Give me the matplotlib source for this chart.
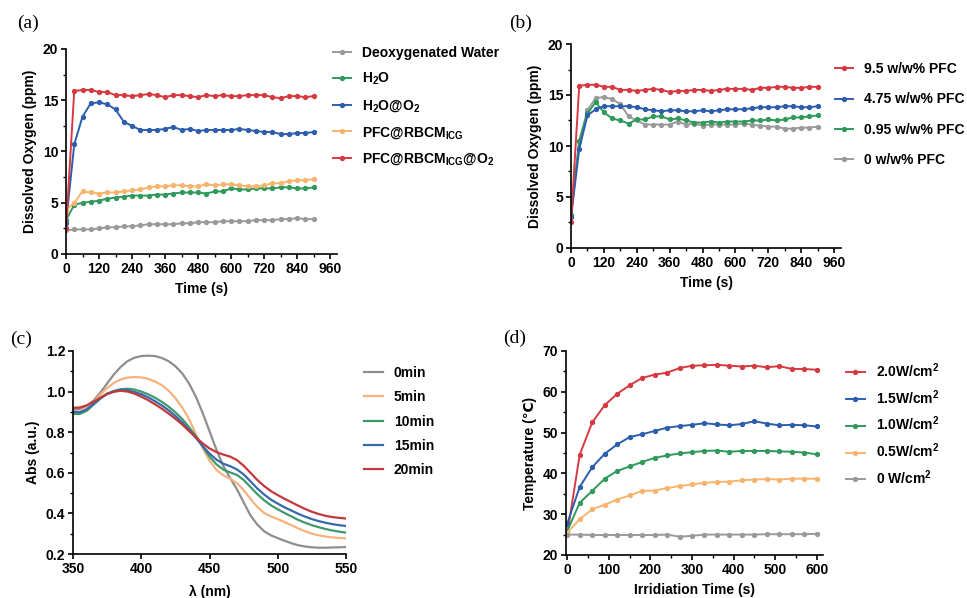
import numpy as np
import matplotlib as mpl
import matplotlib.pyplot as plt
from matplotlib.ticker import MultipleLocator

mpl.rcParams.update({
    "font.family": ["Liberation Sans", "DejaVu Sans"],
    "font.weight": "bold", "font.size": 10,
    "axes.labelweight": "bold", "mathtext.default": "regular",
    "axes.linewidth": 1.2, "xtick.major.width": 1.2, "ytick.major.width": 1.2,
    "xtick.minor.width": 1.0, "ytick.minor.width": 1.0,
    "xtick.major.size": 3.5, "ytick.major.size": 3.5,
    "xtick.minor.size": 2.2, "ytick.minor.size": 2.2,
    "xtick.major.pad": 2.5, "ytick.major.pad": 2.0,
})

RED, BLUE, GREEN, ORANGE, GRAY = "#d63a40", "#2d5eae", "#2f9a5c", "#f7b46e", "#9a9a9a"

# ---------------- (a) dissolved oxygen, 0..900 s every 30 s
T_A = np.arange(0, 901, 30)
A_DEOX = [2.3, 2.4, 2.4, 2.4, 2.5, 2.6, 2.6, 2.7, 2.7, 2.8, 2.9, 2.9, 2.9, 2.9, 3.0, 3.0,
          3.1, 3.1, 3.1, 3.2, 3.2, 3.2, 3.2, 3.3, 3.3, 3.3, 3.4, 3.4, 3.5, 3.4, 3.4]
A_H2O = [3.3, 4.8, 5.0, 5.1, 5.2, 5.4, 5.5, 5.6, 5.7, 5.7, 5.7, 5.8, 5.8, 5.9, 6.0, 6.0,
         6.0, 5.9, 6.1, 6.1, 6.4, 6.3, 6.3, 6.4, 6.4, 6.4, 6.5, 6.5, 6.4, 6.4, 6.5]
A_H2O_O2 = [3.0, 10.7, 13.4, 14.7, 14.8, 14.6, 14.1, 12.9, 12.5, 12.1, 12.1, 12.1, 12.2, 12.4,
            12.1, 12.2, 12.0, 12.1, 12.1, 12.1, 12.1, 12.2, 12.1, 12.0, 11.9, 11.9, 11.7, 11.7,
            11.8, 11.8, 11.9]
A_PFC = [4.3, 5.0, 6.1, 6.0, 5.9, 6.0, 6.0, 6.1, 6.2, 6.3, 6.5, 6.6, 6.6, 6.7, 6.7, 6.6,
         6.6, 6.8, 6.7, 6.8, 6.8, 6.7, 6.6, 6.6, 6.7, 6.9, 6.9, 7.1, 7.2, 7.2, 7.3]
A_PFC_O2 = [2.5, 15.9, 16.0, 16.0, 15.8, 15.8, 15.5, 15.5, 15.4, 15.5, 15.6, 15.5, 15.3, 15.5,
            15.5, 15.4, 15.3, 15.5, 15.4, 15.5, 15.4, 15.4, 15.5, 15.5, 15.5, 15.3, 15.2, 15.4,
            15.4, 15.3, 15.4]
A_LABELS = ["Deoxygenated Water", "H$_2$O", "H$_2$O@O$_2$",
            "PFC@RBCM$_{ICG}$", "PFC@RBCM$_{ICG}$@O$_2$"]

# ---------------- (b) PFC content
B_95 = [2.5, 15.9, 16.0, 16.0, 15.8, 15.8, 15.5, 15.5, 15.4, 15.5, 15.6, 15.5, 15.3, 15.4,
        15.4, 15.5, 15.5, 15.4, 15.5, 15.6, 15.6, 15.6, 15.5, 15.7, 15.7, 15.8, 15.8, 15.7,
        15.7, 15.8, 15.8]
B_475 = [3.0, 9.7, 13.0, 13.6, 13.9, 13.9, 13.9, 13.9, 13.8, 13.6, 13.5, 13.4, 13.5, 13.5,
         13.4, 13.4, 13.5, 13.4, 13.5, 13.6, 13.6, 13.6, 13.7, 13.8, 13.8, 13.8, 13.9, 13.9,
         13.8, 13.8, 13.9]
B_095 = [3.2, 10.5, 13.2, 14.3, 13.3, 12.7, 12.5, 12.2, 12.6, 12.6, 12.9, 12.9, 12.6, 12.7,
         12.5, 12.3, 12.3, 12.4, 12.3, 12.4, 12.4, 12.4, 12.5, 12.5, 12.6, 12.5, 12.6, 12.8,
         12.8, 12.9, 13.0]
B_0 = [3.2, 10.5, 13.5, 14.7, 14.8, 14.6, 14.1, 12.9, 12.5, 12.1, 12.1, 12.1, 12.1, 12.4,
       12.1, 12.2, 12.0, 12.1, 12.1, 12.1, 12.1, 12.2, 12.1, 12.0, 11.9, 11.9, 11.7, 11.7,
       11.8, 11.8, 11.9]
B_LABELS = ["9.5 w/w% PFC", "4.75 w/w% PFC", "0.95 w/w% PFC", "0 w/w% PFC"]

# ---------------- (c) absorbance spectra, 350..550 nm every 5 nm
WL = np.arange(350, 551, 5)
C_0 = [0.910, 0.915, 0.930, 0.955, 0.995, 1.040, 1.085, 1.122, 1.150, 1.167, 1.175, 1.177,
       1.175, 1.166, 1.150, 1.125, 1.090, 1.040, 0.975, 0.895, 0.805, 0.715, 0.635, 0.575,
       0.520, 0.455, 0.390, 0.345, 0.312, 0.292, 0.278, 0.265, 0.253, 0.243, 0.237, 0.233,
       0.231, 0.231, 0.232, 0.233, 0.234]
C_5 = [0.900, 0.902, 0.918, 0.948, 0.985, 1.018, 1.043, 1.060, 1.069, 1.072, 1.070, 1.063,
       1.050, 1.032, 1.005, 0.968, 0.922, 0.865, 0.790, 0.722, 0.660, 0.615, 0.588, 0.571,
       0.550, 0.515, 0.472, 0.432, 0.402, 0.385, 0.372, 0.357, 0.342, 0.326, 0.312, 0.300,
       0.292, 0.286, 0.282, 0.279, 0.277]
C_10 = [0.890, 0.890, 0.905, 0.935, 0.965, 0.988, 1.003, 1.012, 1.014, 1.010, 1.000, 0.987,
        0.970, 0.950, 0.926, 0.898, 0.865, 0.825, 0.780, 0.730, 0.680, 0.642, 0.616, 0.602,
        0.590, 0.565, 0.530, 0.495, 0.465, 0.440, 0.420, 0.402, 0.385, 0.368, 0.354, 0.342,
        0.332, 0.323, 0.316, 0.310, 0.305]
C_15 = [0.900, 0.898, 0.912, 0.940, 0.968, 0.990, 1.002, 1.008, 1.006, 0.998, 0.987, 0.972,
        0.953, 0.932, 0.908, 0.880, 0.848, 0.812, 0.772, 0.732, 0.695, 0.665, 0.645, 0.633,
        0.617, 0.592, 0.558, 0.523, 0.493, 0.468, 0.448, 0.430, 0.414, 0.398, 0.384, 0.372,
        0.362, 0.354, 0.347, 0.342, 0.338]
C_20 = [0.920, 0.922, 0.932, 0.950, 0.970, 0.988, 0.999, 1.004, 1.000, 0.990, 0.975, 0.958,
        0.938, 0.916, 0.892, 0.866, 0.838, 0.806, 0.775, 0.745, 0.720, 0.702, 0.690, 0.680,
        0.663, 0.635, 0.600, 0.565, 0.535, 0.510, 0.490, 0.472, 0.455, 0.438, 0.422, 0.408,
        0.397, 0.388, 0.382, 0.378, 0.375]
C_LABELS = ["0min", "5min", "10min", "15min", "20min"]

# ---------------- (d) photothermal heating, 0..600 s every 30 s
T_D = np.arange(0, 601, 30)
D_20 = [25.2, 44.6, 52.5, 56.7, 59.5, 61.6, 63.4, 64.2, 64.7, 65.8, 66.4, 66.5, 66.6, 66.4,
        66.2, 66.4, 66.0, 66.3, 65.6, 65.6, 65.4]
D_15 = [27.7, 36.7, 41.5, 44.8, 47.1, 48.9, 49.6, 50.4, 51.2, 51.6, 51.9, 52.3, 52.0, 51.8,
        52.1, 52.8, 52.2, 51.8, 51.9, 51.8, 51.5]
D_10 = [25.9, 32.8, 35.7, 38.7, 40.6, 41.7, 42.8, 43.8, 44.4, 44.9, 45.2, 45.5, 45.6, 45.3,
        45.5, 45.5, 45.5, 45.4, 45.3, 45.1, 44.7]
D_05 = [25.5, 28.8, 31.2, 32.3, 33.6, 34.6, 35.7, 35.8, 36.4, 36.9, 37.3, 37.7, 37.9, 38.0,
        38.3, 38.5, 38.6, 38.5, 38.7, 38.7, 38.7]
D_0 = [25.0, 25.0, 24.9, 24.9, 24.9, 24.9, 24.9, 24.9, 25.0, 24.5, 24.7, 25.0, 25.0, 25.0,
       25.0, 25.0, 25.1, 25.1, 25.1, 25.1, 25.2]
D_LABELS = ["2.0W/cm$^2$", "1.5W/cm$^2$", "1.0W/cm$^2$", "0.5W/cm$^2$", "0 W/cm$^2$"]

W, H = 967, 598
fig = plt.figure(figsize=(W / 100, H / 100), dpi=100)


def px_axes(x0, y0, x1, y1):
    return fig.add_axes([x0 / W, 1 - y1 / H, (x1 - x0) / W, (y1 - y0) / H])


def style(ax):
    for s in ("top", "right"):
        ax.spines[s].set_visible(False)
    ax.tick_params(which="both", direction="out")


def leg(ax, x, y, spacing, hl=1.3, pad=0.8, order=None):
    h, l = ax.get_legend_handles_labels()
    if order is not None:
        h, l = [h[i] for i in order], [l[i] for i in order]
    ax.legend(h, l, loc="upper left", bbox_to_anchor=(x / W, 1 - y / H),
              bbox_transform=fig.transFigure, frameon=False, borderpad=0,
              borderaxespad=0, handlelength=hl, handletextpad=pad,
              labelspacing=spacing, fontsize=10)


def panel(x, y, s):
    fig.text(x / W, 1 - y / H, s, family="Liberation Serif", weight="normal",
             fontsize=14, ha="center", va="center")


LW, MS = 1.4, 2.8

# (a)
ax = px_axes(66, 49, 337, 254)
for ys, c, lab in zip([A_DEOX, A_H2O, A_H2O_O2, A_PFC, A_PFC_O2],
                      [GRAY, GREEN, BLUE, ORANGE, RED], A_LABELS):
    ax.plot(T_A, ys, "-o", color=c, lw=LW, ms=MS, label=lab)
ax.set_xlim(0, 985)
ax.set_ylim(0, 20)
ax.xaxis.set_major_locator(MultipleLocator(120))
ax.xaxis.set_minor_locator(MultipleLocator(60))
ax.yaxis.set_major_locator(MultipleLocator(5))
ax.yaxis.set_minor_locator(MultipleLocator(2.5))
ax.set_xlabel("Time (s)", labelpad=4)
ax.set_ylabel("Dissolved Oxygen (ppm)", labelpad=4)
style(ax)
leg(ax, 333, 46, 0.78)
panel(28, 23, "(a)")

# (b)
ax = px_axes(571, 44, 841, 248)
for ys, c, lab in zip([B_0, B_095, B_475, B_95], [GRAY, GREEN, BLUE, RED], B_LABELS[::-1]):
    ax.plot(T_A, ys, "-o", color=c, lw=LW, ms=MS, label=lab)
ax.set_xlim(0, 985)
ax.set_ylim(0, 20)
ax.xaxis.set_major_locator(MultipleLocator(120))
ax.xaxis.set_minor_locator(MultipleLocator(60))
ax.yaxis.set_major_locator(MultipleLocator(5))
ax.yaxis.set_minor_locator(MultipleLocator(2.5))
ax.set_xlabel("Time (s)", labelpad=4)
ax.set_ylabel("Dissolved Oxygen (ppm)", labelpad=4)
style(ax)
leg(ax, 835, 62, 1.18, order=[3, 2, 1, 0])
panel(521, 23, "(b)")

# (c)
C_COLS = ["#8e8e8e", "#f5b27e", "#3e9a6d", "#3a68ad", "#c3383c"]
ax = px_axes(73, 351, 346, 554)
for ys, c, lab in zip([C_0, C_5, C_10, C_15, C_20], C_COLS, C_LABELS):
    ax.plot(WL, ys, color=c, lw=1.6, label=lab)
ax.set_xlim(350, 550)
ax.set_ylim(0.2, 1.2)
ax.xaxis.set_major_locator(MultipleLocator(50))
ax.yaxis.set_major_locator(MultipleLocator(0.2))
ax.yaxis.set_minor_locator(MultipleLocator(0.1))
ax.yaxis.set_major_formatter(mpl.ticker.FormatStrFormatter("%.1f"))
ax.set_xlabel("λ (nm)", labelpad=6)
ax.set_ylabel("Abs (a.u.)", labelpad=4)
style(ax)
leg(ax, 364, 366, 0.74, hl=1.4, pad=0.75)
panel(21, 339, "(c)")

# (d)
ax = px_axes(566, 351, 823, 555)
for ys, c, lab in zip([D_20, D_15, D_10, D_05, D_0],
                      [RED, BLUE, GREEN, ORANGE, GRAY], D_LABELS):
    ax.plot(T_D, ys, "-o", color=c, lw=LW, ms=MS, label=lab)
ax.set_xlim(-3, 615)
ax.set_ylim(20, 70)
ax.xaxis.set_major_locator(MultipleLocator(100))
ax.xaxis.set_minor_locator(MultipleLocator(50))
ax.yaxis.set_major_locator(MultipleLocator(10))
ax.yaxis.set_minor_locator(MultipleLocator(5))
ax.set_xlabel("Irridiation Time (s)", labelpad=4)
ax.set_ylabel("Temperature (℃)", labelpad=4)
style(ax)
leg(ax, 846, 361, 0.6, hl=1.35, pad=0.8)
panel(515, 338, "(d)")

fig.savefig("out.png", dpi=100, facecolor="white")
